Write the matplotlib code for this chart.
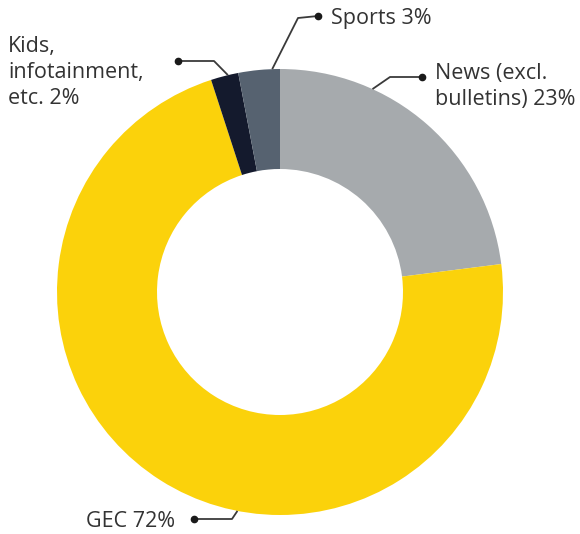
import numpy as np
import matplotlib
matplotlib.use("Agg")
import matplotlib.pyplot as plt

# Share of viewing time by genre
categories = ["News (excl.\nbulletins)", "GEC", "Kids,\ninfotainment,\netc.", "Sports"]
shares = [23, 72, 2, 3]
colors = ["#a6aaad", "#fbd20b", "#141a2d", "#566270"]

W, H = 580, 534
fig = plt.figure(figsize=(W / 100, H / 100), dpi=100)
ax = fig.add_axes([0, 0, 1, 1])

cx, cy = 280, H - 292
r_out, r_in = 223, 123
ax.pie(shares, colors=colors, center=(cx, cy), radius=r_out,
       startangle=90, counterclock=False,
       wedgeprops=dict(width=r_out - r_in, linewidth=0))
ax.set_xlim(0, W)
ax.set_ylim(0, H)
ax.set_aspect("equal")
ax.axis("off")

font = "Open Sans"
fs = 15.5
tcol = "#333333"
lcol = "#3a3a3a"

def leader(angle_deg, pts, dot):
    a = np.deg2rad(angle_deg)
    x0 = cx + r_out * np.cos(a)
    y0 = cy + r_out * np.sin(a)
    xs = [x0] + [p[0] for p in pts] + [dot[0]]
    ys = [y0] + [H - p[1] for p in pts] + [H - dot[1]]
    ax.plot(xs, ys, color=lcol, lw=1.3, solid_capstyle="butt", zorder=3)
    ax.plot(dot[0], H - dot[1], "o", color="#1a1a1a", ms=4.5, zorder=4)

labels = [f"{c} {v}%" for c, v in zip(categories, shares)]

def label(x, y_top, s):
    ax.text(x, H - y_top, s, ha="left", va="top", fontsize=fs, color=tcol,
            family=font, linespacing=1.3)

# Sports
leader(92, [(298, 18)], (318, 16))
label(331, 8, labels[3])
# News
leader(65.5, [(390, 77)], (422, 77))
label(435, 63, labels[0])
# Kids
leader(103.5, [(214, 61)], (178, 61))
label(8, 36, labels[2])
# GEC
leader(259, [(232, 519)], (194, 519))
label(86, 511, labels[1])

fig.savefig("out.png", dpi=100, facecolor="white")
